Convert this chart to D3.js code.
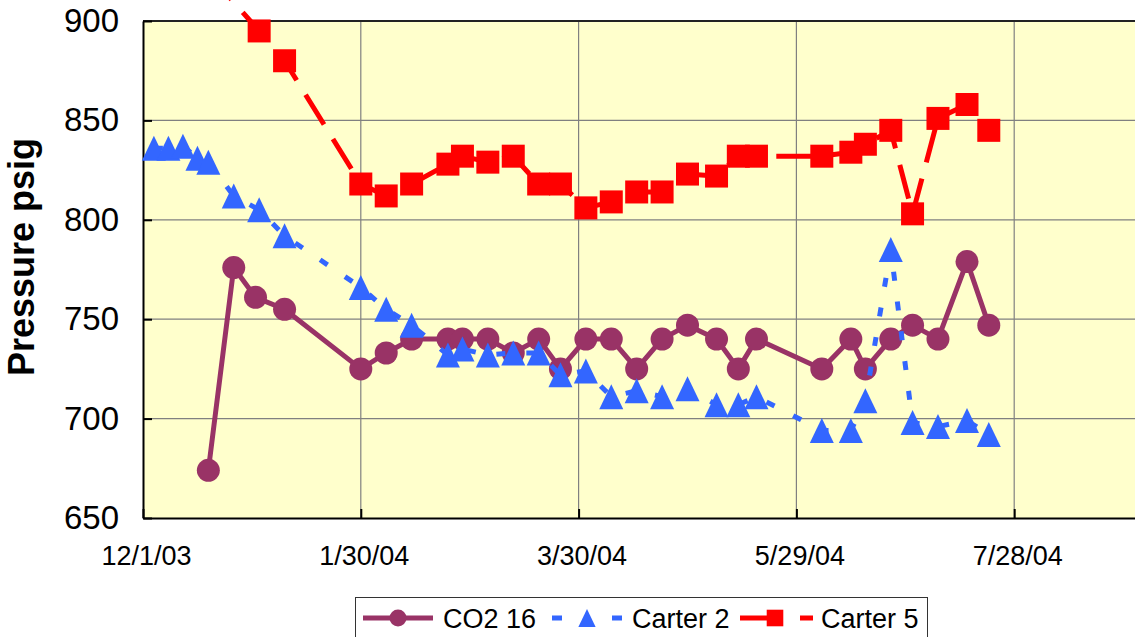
<!DOCTYPE html>
<html>
<head>
<meta charset="utf-8">
<script src="https://cdn.jsdelivr.net/npm/d3@7"></script>
<style>
  body { margin: 0; background: #fff; }
  svg { display: block; }
  text { font-family: "Liberation Sans", Arial, sans-serif; fill: #000; }
</style>
</head>
<body>
<svg id="chart" width="1135" height="637"></svg>
<script>
// Well pressure readings (psig) by sampling date
const co2Dates = ["12/19/03","12/26/03","1/1/04","1/9/04","1/30/04","2/6/04","2/13/04","2/23/04","2/27/04","3/5/04","3/12/04","3/19/04","3/25/04","4/1/04","4/8/04","4/15/04","4/22/04","4/29/04","5/7/04","5/13/04","5/18/04","6/5/04","6/13/04","6/17/04","6/24/04","6/30/04","7/7/04","7/15/04","7/21/04"];
const co2Values = [674,776,761,755,725,733,740,740,740,740,733,740,725,740,740,725,740,747,740,725,740,725,740,725,740,747,740,779,747];

const carter2Dates = ["12/4/03","12/8/03","12/12/03","12/16/03","12/19/03","12/26/03","1/2/04","1/9/04","1/30/04","2/6/04","2/13/04","2/23/04","2/27/04","3/5/04","3/12/04","3/19/04","3/25/04","4/1/04","4/8/04","4/15/04","4/22/04","4/29/04","5/7/04","5/13/04","5/18/04","6/5/04","6/13/04","6/17/04","6/24/04","6/30/04","7/7/04","7/15/04","7/21/04"];
const carter2Values = [836,836,837,831,829,812,805,792,766,755,747,732,735,732,733,733,722,724,711,714,711,715,707,707,711,694,694,709,785,698,696,699,692];

const carter5Dates = ["12/19/03","1/2/04","1/9/04","1/30/04","2/6/04","2/13/04","2/23/04","2/27/04","3/5/04","3/12/04","3/19/04","3/25/04","4/1/04","4/8/04","4/15/04","4/22/04","4/29/04","5/7/04","5/13/04","5/18/04","6/5/04","6/13/04","6/17/04","6/24/04","6/30/04","7/7/04","7/15/04","7/21/04"];
const carter5Values = [924,895,880,818,812,818,828,832,829,832,818,818,806,809,814,814,823,822,832,832,832,834,838,845,803,851,858,845];

const xTickLabels = ["12/1/03","1/30/04","3/30/04","5/29/04","7/28/04"];
const xDomainEnd = "9/26/04";
const yTickValues = [650,700,750,800,850,900];
const seriesNames = ["CO2 16","Carter 2","Carter 5"];

const parse = d3.timeParse("%m/%d/%y");
const fmt = d3.timeFormat("%-m/%-d/%y");

const svg = d3.select("#chart");
const plot = { left: 143, top: 21, bottom: 518, right: 1232 };

const x = d3.scaleTime()
  .domain([parse(xTickLabels[0]), parse(xDomainEnd)])
  .range([plot.left, plot.right]);
const y = d3.scaleLinear().domain([650, 900]).range([plot.bottom, plot.top]);
const xTicks = xTickLabels.map(parse);

// plot background
svg.append("rect")
  .attr("x", plot.left).attr("y", plot.top)
  .attr("width", plot.right - plot.left).attr("height", plot.bottom - plot.top)
  .attr("fill", "#FFFFCC");

// gridlines
const grid = svg.append("g").attr("stroke", "#808080").attr("stroke-width", 1.2);
grid.selectAll("line.h").data(yTickValues.slice(1)).join("line")
  .attr("x1", plot.left).attr("x2", plot.right)
  .attr("y1", d => y(d)).attr("y2", d => y(d));
grid.selectAll("line.v").data(xTicks.slice(1)).join("line")
  .attr("y1", plot.top).attr("y2", plot.bottom)
  .attr("x1", d => x(d)).attr("x2", d => x(d));

// top border of the plot area
svg.append("line")
  .attr("x1", plot.left).attr("x2", plot.right)
  .attr("y1", plot.top).attr("y2", plot.top)
  .attr("stroke", "#222").attr("stroke-width", 2);

// axes
const yAxis = svg.append("g")
  .attr("transform", `translate(${plot.left},0)`)
  .call(d3.axisLeft(y).tickValues(yTickValues).tickSizeInner(-9).tickSizeOuter(0).tickPadding(24));
yAxis.selectAll("text").style("font-size", "33px");

const xAxis = svg.append("g")
  .attr("transform", `translate(0,${plot.bottom})`)
  .call(d3.axisBottom(x).tickValues(xTicks).tickFormat(fmt).tickSizeInner(-9).tickSizeOuter(0).tickPadding(28));
xAxis.selectAll("text").style("font-size", "27px").attr("dx", 3);

[yAxis, xAxis].forEach(a => {
  a.select(".domain").attr("stroke", "#000").attr("stroke-width", 2);
  a.selectAll(".tick line").attr("stroke", "#000").attr("stroke-width", 2);
});

// y axis title
svg.append("text")
  .attr("transform", "translate(34,257) rotate(-90)")
  .attr("text-anchor", "middle")
  .style("font-size", "36px").style("font-weight", "bold")
  .text("Pressure psig");

// marker shapes
const markerPath = {
  circle: r => `M${-r},0a${r},${r} 0 1,0 ${2*r},0a${r},${r} 0 1,0 ${-2*r},0Z`,
  triangle: r => `M0,${-r}L${r*0.96},${r}L${-r*0.96},${r}Z`,
  square: r => `M${-r},${-r}H${r}V${r}H${-r}Z`
};

const series = [
  { name: seriesNames[0], dates: co2Dates, values: co2Values, color: "#993366", dash: null, marker: "circle", size: 11.5 },
  { name: seriesNames[1], dates: carter2Dates, values: carter2Values, color: "#3366FF", dash: "9,21", marker: "triangle", size: 12.5 },
  { name: seriesNames[2], dates: carter5Dates, values: carter5Values, color: "#FF0000", dash: "35,17", marker: "square", size: 11.5 }
];

const line = d3.line().x(d => x(d.date)).y(d => y(d.value));

series.forEach(s => {
  const pts = s.dates.map((d, i) => ({ date: parse(d), value: s.values[i] }));
  const g = svg.append("g");
  g.append("path")
    .attr("d", line(pts))
    .attr("fill", "none")
    .attr("stroke", s.color)
    .attr("stroke-width", 5)
    .attr("stroke-linejoin", "round")
    .attr("stroke-dasharray", s.dash);
  g.selectAll("path.m").data(pts).join("path")
    .attr("class", "m")
    .attr("transform", d => `translate(${x(d.date)},${y(d.value)})`)
    .attr("d", markerPath[s.marker](s.size))
    .attr("fill", s.color);
});

// legend
const legend = svg.append("g");
legend.append("rect")
  .attr("x", 355.5).attr("y", 597.5).attr("width", 572).attr("height", 60)
  .attr("fill", "#fff").attr("stroke", "#333").attr("stroke-width", 1);

const legendItems = [
  { x0: 363, x1: 433, mx: 398, tx: 443, dash: null, size: 8.5 },
  { x0: 552, x1: 622, mx: 587, tx: 632, dash: "10,50", size: 9 },
  { x0: 740, x1: 813, mx: 775, tx: 821, dash: "40,20", size: 8.3 }
];
const ly = 618;
series.forEach((s, i) => {
  const it = legendItems[i];
  legend.append("line")
    .attr("x1", it.x0).attr("x2", it.x1).attr("y1", ly).attr("y2", ly)
    .attr("stroke", s.color).attr("stroke-width", 5)
    .attr("stroke-dasharray", it.dash);
  legend.append("path")
    .attr("transform", `translate(${it.mx},${ly})`)
    .attr("d", markerPath[s.marker](it.size))
    .attr("fill", s.color);
  legend.append("text")
    .attr("x", it.tx).attr("y", 628)
    .style("font-size", "27px")
    .text(s.name);
});
</script>
</body>
</html>
